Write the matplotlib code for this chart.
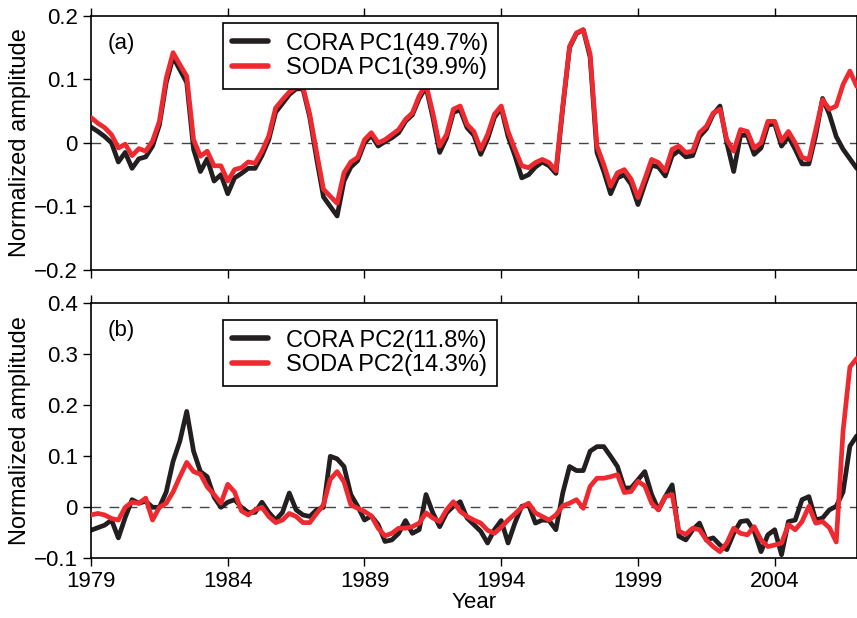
import numpy as np
import matplotlib.pyplot as plt

plt.rcParams['font.family'] = ['Liberation Sans', 'DejaVu Sans']

# quarterly time axis, 1979.0 .. 2007.0
years = np.arange(113) * 0.25 + 1979.0

# (a) leading PC
cora_pc1 = [
    0.025, 0.018, 0.010, 0.000, -0.030, -0.015, -0.040, -0.025,
    -0.022, -0.005, 0.028, 0.095, 0.135, 0.115, 0.095, -0.010,
    -0.045, -0.025, -0.060, -0.050, -0.080, -0.055, -0.048, -0.040,
    -0.040, -0.020, 0.005, 0.048, 0.062, 0.076, 0.085, 0.085,
    0.040, -0.025, -0.085, -0.100, -0.115, -0.060, -0.038, -0.028,
    0.000, 0.012, -0.005, 0.002, 0.008, 0.016, 0.034, 0.044,
    0.070, 0.088, 0.040, -0.015, 0.008, 0.048, 0.052, 0.024,
    0.012, -0.018, 0.006, 0.040, 0.055, 0.010, -0.020, -0.055,
    -0.050, -0.038, -0.030, -0.036, -0.048, 0.055, 0.150, 0.172,
    0.178, 0.135, -0.015, -0.045, -0.080, -0.055, -0.050, -0.065,
    -0.097, -0.065, -0.035, -0.038, -0.052, -0.020, -0.012, -0.022,
    -0.020, 0.010, 0.022, 0.045, 0.058, 0.000, -0.045, 0.012,
    0.012, -0.018, -0.008, 0.028, 0.030, -0.005, 0.010, -0.010,
    -0.033, -0.033, 0.012, 0.070, 0.045, 0.010, -0.010, -0.025,
    -0.040,
]
soda_pc1 = [
    0.040, 0.031, 0.024, 0.013, -0.008, -0.002, -0.020, -0.009,
    -0.013, 0.003, 0.034, 0.102, 0.142, 0.123, 0.105, 0.005,
    -0.021, -0.013, -0.036, -0.036, -0.060, -0.042, -0.039, -0.030,
    -0.032, -0.013, 0.011, 0.055, 0.068, 0.080, 0.088, 0.088,
    0.045, -0.015, -0.073, -0.084, -0.095, -0.047, -0.030, -0.023,
    0.005, 0.016, 0.000, 0.005, 0.013, 0.021, 0.037, 0.047,
    0.074, 0.092, 0.047, -0.005, 0.013, 0.053, 0.058, 0.029,
    0.018, -0.010, 0.013, 0.045, 0.058, 0.018, -0.010, -0.036,
    -0.039, -0.031, -0.026, -0.031, -0.044, 0.058, 0.152, 0.173,
    0.178, 0.140, -0.005, -0.034, -0.068, -0.047, -0.042, -0.057,
    -0.086, -0.057, -0.026, -0.031, -0.044, -0.010, -0.005, -0.015,
    -0.013, 0.016, 0.026, 0.047, 0.053, 0.005, -0.013, 0.021,
    0.018, -0.008, 0.000, 0.034, 0.034, 0.003, 0.018, 0.000,
    -0.023, -0.026, 0.021, 0.068, 0.053, 0.058, 0.092, 0.113,
    0.089,
]

# (b) second PC
cora_pc2 = [
    -0.045, -0.040, -0.035, -0.025, -0.060, -0.020, 0.015, 0.008,
    0.012, 0.000, 0.000, 0.030, 0.090, 0.130, 0.188, 0.110,
    0.070, 0.060, 0.020, 0.000, 0.010, 0.015, 0.000, -0.010,
    -0.010, 0.010, -0.010, -0.025, -0.010, 0.028, -0.005, -0.015,
    -0.018, -0.005, 0.000, 0.100, 0.095, 0.080, 0.025, 0.002,
    -0.025, -0.017, -0.034, -0.067, -0.064, -0.051, -0.026, -0.051,
    -0.044, 0.025, -0.011, -0.038, -0.011, 0.002, 0.011, -0.021,
    -0.034, -0.047, -0.070, -0.044, -0.026, -0.070, -0.031, 0.002,
    0.005, -0.031, -0.025, -0.026, -0.044, 0.028, 0.080, 0.072,
    0.072, 0.110, 0.119, 0.119, 0.100, 0.080, 0.038, 0.038,
    0.054, 0.070, 0.025, -0.005, 0.021, 0.044, -0.057, -0.064,
    -0.044, -0.031, -0.064, -0.060, -0.074, -0.083, -0.051, -0.028,
    -0.026, -0.047, -0.087, -0.054, -0.044, -0.093, -0.028, -0.025,
    0.015, 0.021, -0.025, -0.021, -0.005, 0.002, 0.030, 0.120,
    0.140,
]
soda_pc2 = [
    -0.015, -0.012, -0.015, -0.022, -0.025, 0.000, 0.010, 0.008,
    0.018, -0.025, 0.000, 0.008, 0.030, 0.060, 0.088, 0.070,
    0.065, 0.040, 0.025, 0.008, 0.045, 0.030, -0.007, -0.015,
    -0.005, 0.000, -0.018, -0.030, -0.025, -0.012, -0.018, -0.030,
    -0.030, -0.012, 0.005, 0.055, 0.070, 0.050, 0.005, -0.002,
    -0.008, -0.017, -0.041, -0.056, -0.051, -0.041, -0.041, -0.038,
    -0.031, -0.011, -0.021, -0.028, -0.005, 0.011, -0.008, -0.018,
    -0.025, -0.031, -0.045, -0.051, -0.039, -0.025, -0.013, 0.000,
    0.008, -0.011, -0.018, -0.025, -0.015, 0.003, 0.008, 0.015,
    -0.002, 0.041, 0.057, 0.057, 0.060, 0.064, 0.029, 0.031,
    0.051, 0.042, 0.008, -0.005, 0.021, 0.025, -0.047, -0.053,
    -0.041, -0.044, -0.064, -0.077, -0.087, -0.070, -0.041, -0.051,
    -0.054, -0.038, -0.064, -0.077, -0.074, -0.070, -0.034, -0.044,
    -0.028, 0.002, -0.031, -0.028, -0.040, -0.068, 0.150, 0.275,
    0.292,
]

BLACK = '#231f20'
RED = '#ee2a30'
FS = 16

fig = plt.figure(figsize=(8.57, 6.18), dpi=100)
ax1 = fig.add_axes([0.1062, 0.563, 0.8935, 0.4115])
ax2 = fig.add_axes([0.1062, 0.0966, 0.8935, 0.4126])

panels = [
    (ax1, cora_pc1, soda_pc1, 'CORA PC1(49.7%)', 'SODA PC1(39.9%)', '(a)',
     (-0.2, 0.2), [-0.2, -0.1, 0, 0.1, 0.2], ['\u22120.2', '\u22120.1', '0', '0.1', '0.2'], 0.971),
    (ax2, cora_pc2, soda_pc2, 'CORA PC2(11.8%)', 'SODA PC2(14.3%)', '(b)',
     (-0.1, 0.4), [-0.1, 0, 0.1, 0.2, 0.3, 0.4], ['\u22120.1', '0', '0.1', '0.2', '0.3', '0.4'], 0.934),
]

for ax, cora, soda, lab_c, lab_s, tag, ylim, yt, ytl, leg_top in panels:
    ax.axhline(0, color='#444444', lw=1.0, ls=(0, (7, 6)), zorder=1)
    ax.plot(years, cora, color=BLACK, lw=3.4, label=lab_c, zorder=2,
            solid_joinstyle='round', solid_capstyle='round')
    ax.plot(years, soda, color=RED, lw=3.4, label=lab_s, zorder=3,
            solid_joinstyle='round', solid_capstyle='round')

    ax.set_xlim(1979, 2007)
    ax.set_ylim(*ylim)
    ax.set_xticks([1979, 1984, 1989, 1994, 1999, 2004])
    ax.set_yticks(yt)
    ax.set_yticklabels(ytl)
    ax.tick_params(direction='out', length=6, width=1.0, labelsize=FS,
                   top=True, right=True)
    for s in ax.spines.values():
        s.set_linewidth(1.2)
    ax.set_ylabel('Normalized amplitude', fontsize=FS + 1)
    ax.text(0.022, 0.87, tag, transform=ax.transAxes, fontsize=FS)

    leg = ax.legend(loc='upper left', bbox_to_anchor=(0.172, leg_top),
                    borderaxespad=0, fancybox=False, framealpha=1,
                    edgecolor='black', fontsize=FS + 1, handlelength=1.5,
                    handletextpad=0.8, labelspacing=0.12, borderpad=0.4)
    leg.get_frame().set_linewidth(1.2)
    for h in leg.get_lines():
        h.set_linewidth(4)

ax1.set_xticklabels([])
ax2.set_xlabel('Year', fontsize=FS, labelpad=0)
ax1.yaxis.set_label_coords(-0.078, 0.5)
ax2.yaxis.set_label_coords(-0.078, 0.5)

fig.savefig('out.png', dpi=100)
